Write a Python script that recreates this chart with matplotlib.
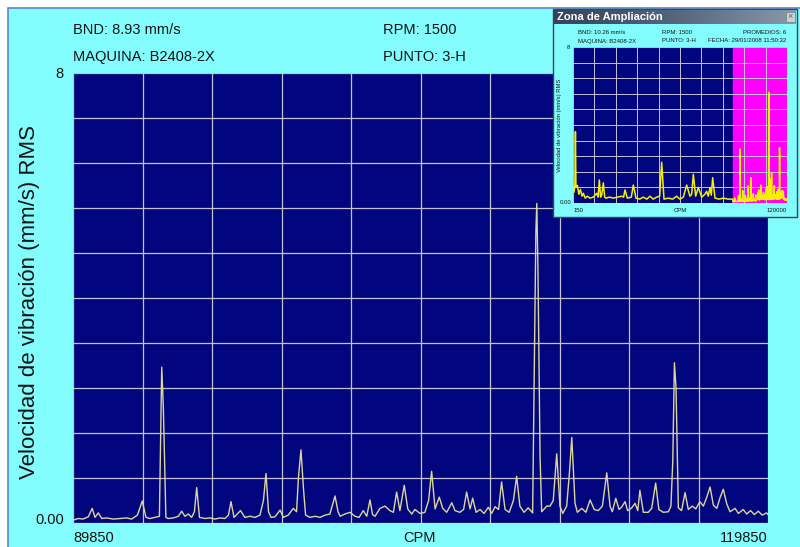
import numpy as np
import matplotlib
matplotlib.use("Agg")
import matplotlib.pyplot as plt
from matplotlib.patches import Rectangle
from matplotlib.colors import LinearSegmentedColormap

# ---------------------------------------------------------------- data
# Zoomed band of the velocity spectrum (CPM, mm/s RMS)
band_start, band_end = 89850, 119850
band_cpm = [
    89850, 90080, 90290, 90510, 90680, 90800, 90940, 91090, 91300, 91590,
    91880, 92170, 92380, 92630, 92840, 93000, 93170, 93390, 93580, 93680,
    93750, 93860, 93960, 94180, 94400, 94540, 94680, 94830, 94970, 95090,
    95190, 95310, 95550, 95760, 95980, 96200, 96410, 96560, 96670, 96800,
    97080, 97270, 97490, 97710, 97920, 98070, 98180, 98290, 98400, 98570,
    98790, 98930, 99140, 99360, 99500, 99580, 99690, 99800, 99890, 100080,
    100300, 100510, 100730, 100940, 101160, 101290, 101380, 101590, 101810, 102020,
    102200, 102380, 102530, 102670, 102780, 102890, 103100, 103320, 103530, 103680,
    103820, 103960, 104150, 104300, 104470, 104610, 104830, 105040, 105200, 105330,
    105480, 105660, 105810, 105980, 106200, 106340, 106550, 106710, 106840, 106990,
    107100, 107250, 107420, 107590, 107780, 107920, 108070, 108220, 108350, 108500,
    108680, 108860, 109000, 109140, 109320, 109500, 109690, 109830, 109870, 109920,
    110010, 110080, 110300, 110440, 110580, 110730, 110870, 110990, 111160, 111280,
    111380, 111520, 111620, 111810, 111990, 112170, 112350, 112520, 112700, 112890,
    113030, 113130, 113280, 113420, 113530, 113680, 113790, 113970, 114110, 114230,
    114320, 114470, 114680, 114830, 115000, 115140, 115330, 115550, 115660, 115740,
    115810, 115880, 115980, 116120, 116270, 116410, 116580, 116730, 116910, 117060,
    117200, 117350, 117490, 117640, 117780, 117920, 118070, 118210, 118430, 118570,
    118780, 118930, 119100, 119260, 119430, 119600, 119790, 119850,
]
band_vel = [
    0.05, 0.08, 0.07, 0.11, 0.26, 0.10, 0.18, 0.08, 0.09, 0.07,
    0.08, 0.09, 0.07, 0.14, 0.39, 0.10, 0.08, 0.10, 0.12, 2.77,
    2.05, 0.10, 0.08, 0.09, 0.12, 0.21, 0.12, 0.16, 0.10, 0.20,
    0.63, 0.10, 0.08, 0.09, 0.07, 0.09, 0.08, 0.14, 0.38, 0.10,
    0.22, 0.10, 0.12, 0.10, 0.14, 0.40, 0.88, 0.20, 0.10, 0.11,
    0.23, 0.10, 0.14, 0.26, 0.20, 0.80, 1.30, 0.60, 0.14, 0.10,
    0.12, 0.10, 0.14, 0.16, 0.48, 0.20, 0.12, 0.16, 0.19, 0.12,
    0.10, 0.22, 0.12, 0.41, 0.15, 0.12, 0.26, 0.30, 0.22, 0.19,
    0.55, 0.22, 0.67, 0.25, 0.16, 0.24, 0.17, 0.19, 0.40, 0.92,
    0.25, 0.46, 0.26, 0.19, 0.36, 0.22, 0.19, 0.24, 0.55, 0.25,
    0.44, 0.19, 0.24, 0.17, 0.28, 0.17, 0.29, 0.24, 0.73, 0.24,
    0.19, 0.40, 0.83, 0.30, 0.19, 0.27, 0.18, 5.18, 5.68, 4.50,
    1.20, 0.20, 0.30, 0.30, 0.40, 1.23, 0.30, 0.17, 0.30, 0.90,
    1.52, 0.35, 0.19, 0.26, 0.19, 0.41, 0.24, 0.22, 0.30, 0.89,
    0.30, 0.20, 0.44, 0.24, 0.28, 0.38, 0.22, 0.27, 0.35, 0.22,
    0.58, 0.19, 0.19, 0.26, 0.71, 0.24, 0.19, 0.20, 0.30, 1.10,
    2.85, 2.40, 0.27, 0.22, 0.54, 0.24, 0.30, 0.25, 0.38, 0.30,
    0.45, 0.64, 0.32, 0.26, 0.45, 0.60, 0.34, 0.20, 0.26, 0.17,
    0.24, 0.16, 0.22, 0.15, 0.21, 0.14, 0.18, 0.15,
]

# Lower part of the full spectrum, shown only in the overview window
overview_start, overview_end = 150, 120000
low_cpm = [
    150, 700, 1200, 1500, 1800, 2600, 3400, 4300, 5200, 5940,
    7000, 8200, 9670, 11500, 13400, 14200, 14900, 15600, 16200, 17140,
    17900, 18630, 20500, 22740, 25000, 27400, 28500, 29270, 30580, 32800,
    33940, 35430, 37500, 39540, 41500, 43270, 45000, 47010, 48700, 49810,
    51110, 53500, 56000, 58210, 60000, 61940, 63810, 65680, 66600, 67540,
    68850, 70340, 72210, 74000, 75010, 75900, 76880, 77600, 78370, 79680,
    82000, 84350, 87000, 89500,
]
low_vel = [
    0.85, 0.55, 0.90, 3.66, 0.80, 0.90, 0.45, 0.70, 0.35, 0.50,
    0.25, 0.35, 0.25, 0.30, 0.50, 0.30, 1.18, 0.30, 0.40, 1.03,
    0.30, 0.25, 0.30, 0.25, 0.30, 0.35, 0.30, 0.67, 0.25, 0.30,
    0.92, 0.25, 0.20, 0.30, 0.20, 0.35, 0.20, 0.30, 0.35, 2.09,
    0.20, 0.25, 0.20, 0.35, 0.20, 0.30, 0.92, 0.35, 0.45, 1.47,
    0.35, 0.80, 0.30, 0.45, 0.60, 0.35, 0.80, 0.40, 1.30, 0.25,
    0.20, 0.25, 0.20, 0.20,
]

y_max = 8
main_header = [("BND: 8.93 mm/s", "RPM: 1500"), ("MAQUINA: B2408-2X", "PUNTO: 3-H")]
zoom_header = [("BND: 10.26 mm/s", "RPM: 1500", "PROMEDIOS: 6"),
               ("MAQUINA: B2408-2X", "PUNTO: 3-H", "FECHA: 29/01/2008 11:50:32")]
y_title = "Velocidad de vibración (mm/s) RMS"

# ---------------------------------------------------------------- style
W, H = 800, 547
CYAN = "#82fcfc"
NAVY = "#01067e"
GRID = "#c2c2d4"
plt.rcParams["font.family"] = ["Liberation Sans", "DejaVu Sans"]


def box(l, t, r, b):
    return [l / W, 1 - b / H, (r - l) / W, (b - t) / H]


fig = plt.figure(figsize=(W / 100, H / 100), dpi=100, facecolor="white")


def ftext(px, py, s, **kw):
    kw.setdefault("va", "center")
    kw.setdefault("color", "#141414")
    return fig.text(px / W, 1 - py / H, s, **kw)


# cyan panel with a thin blue frame
fig.patches.append(Rectangle((8 / W, -0.01), 1.0, (H - 8) / H + 0.01,
                             transform=fig.transFigure, facecolor=CYAN,
                             edgecolor="#5b86cc", lw=1.2, zorder=-2))

# ---------------------------------------------------------------- main plot
ax = fig.add_axes(box(73, 73, 768, 523))
ax.set_facecolor(NAVY)
ax.set_xlim(band_start, band_end)
ax.set_ylim(0, y_max)
ax.set_xticks(np.linspace(band_start, band_end, 11))
ax.set_yticks(np.linspace(0, y_max, 11))
ax.tick_params(length=0, labelbottom=False, labelleft=False)
ax.grid(True, color=GRID, lw=0.9)
for s in ax.spines.values():
    s.set_visible(False)
ax.plot(band_cpm, band_vel, color="#dcd69a", lw=1.0, zorder=3)

fs = 10.5
ftext(73, 30, main_header[0][0], fontsize=fs)
ftext(383, 30, main_header[0][1], fontsize=fs)
ftext(73, 57, main_header[1][0], fontsize=fs)
ftext(383, 57, main_header[1][1], fontsize=fs)
ftext(64, 74, f"{y_max}", ha="right", fontsize=fs)
ftext(64, 520, "0.00", ha="right", fontsize=fs)
ftext(73, 538, f"{band_start}", ha="left", fontsize=fs)
ftext(420, 538, "CPM", ha="center", fontsize=fs)
ftext(768, 538, f"{band_end}", ha="right", fontsize=fs)
ftext(30, 302, y_title, ha="center", rotation=90, fontsize=16)

# ---------------------------------------------------------------- overview window
fig.patches.append(Rectangle((553 / W, 1 - 217 / H), (797 - 553) / W, (217 - 9) / H,
                             transform=fig.transFigure, facecolor=CYAN,
                             edgecolor="#3c4652", lw=1.0, zorder=5))

tb = fig.add_axes(box(554, 10, 796, 24), zorder=6)
grad = np.linspace(0, 1, 256)[None, :]
tb.imshow(grad, aspect="auto", extent=(0, 1, 0, 1),
          cmap=LinearSegmentedColormap.from_list("bar", ["#34425a", "#55657c", "#8a98ab"]))
tb.set_axis_off()
tb.text(0.012, 0.5, "Zona de Ampliación", transform=tb.transAxes, color="white",
        fontsize=8, fontweight="bold", va="center", ha="left")

fig.patches.append(Rectangle((786 / W, 1 - 22 / H), 9 / W, 10 / H, transform=fig.transFigure,
                             facecolor="#c9d1da", edgecolor="#7d8894", lw=0.6, zorder=7))
ftext(790.5, 17, "×", ha="center", fontsize=6.5, color="#55606c", zorder=8)

ov = fig.add_axes(box(573, 47, 787, 203), zorder=6)
ov.set_facecolor(NAVY)
ov.set_xlim(overview_start, overview_end)
ov.set_ylim(0, y_max)
ov.set_xticks(np.linspace(overview_start, overview_end, 11))
ov.set_yticks(np.linspace(0, y_max, 11))
ov.tick_params(length=0, labelbottom=False, labelleft=False)
ov.set_axisbelow(True)
ov.grid(True, color=GRID, lw=0.7)
for s in ov.spines.values():
    s.set_visible(False)
ov.axvspan(band_start, overview_end, color="#ff00ff", zorder=0.2)
ov.plot(low_cpm + band_cpm, low_vel + band_vel, color="#f4f000", lw=1.1, zorder=3)

sfs = 4.3
ftext(578, 32, zoom_header[0][0], fontsize=sfs, zorder=8)
ftext(662, 32, zoom_header[0][1], fontsize=sfs, zorder=8)
ftext(786, 32, zoom_header[0][2], ha="right", fontsize=sfs, zorder=8)
ftext(578, 41, zoom_header[1][0], fontsize=sfs, zorder=8)
ftext(662, 41, zoom_header[1][1], fontsize=sfs, zorder=8)
ftext(786, 41, zoom_header[1][2], ha="right", fontsize=sfs, zorder=8)
ftext(570, 48, f"{y_max}", ha="right", fontsize=sfs, zorder=8)
ftext(571, 202, "0.00", ha="right", fontsize=sfs, zorder=8)
ftext(574, 211, f"{overview_start}", ha="left", fontsize=sfs, zorder=8)
ftext(680, 211, "CPM", ha="center", fontsize=sfs, zorder=8)
ftext(787, 211, f"{overview_end}", ha="right", fontsize=sfs, zorder=8)
ftext(559, 125, y_title, ha="center", rotation=90, fontsize=4.2, zorder=8)

fig.savefig("out.png", dpi=100, facecolor=fig.get_facecolor())
